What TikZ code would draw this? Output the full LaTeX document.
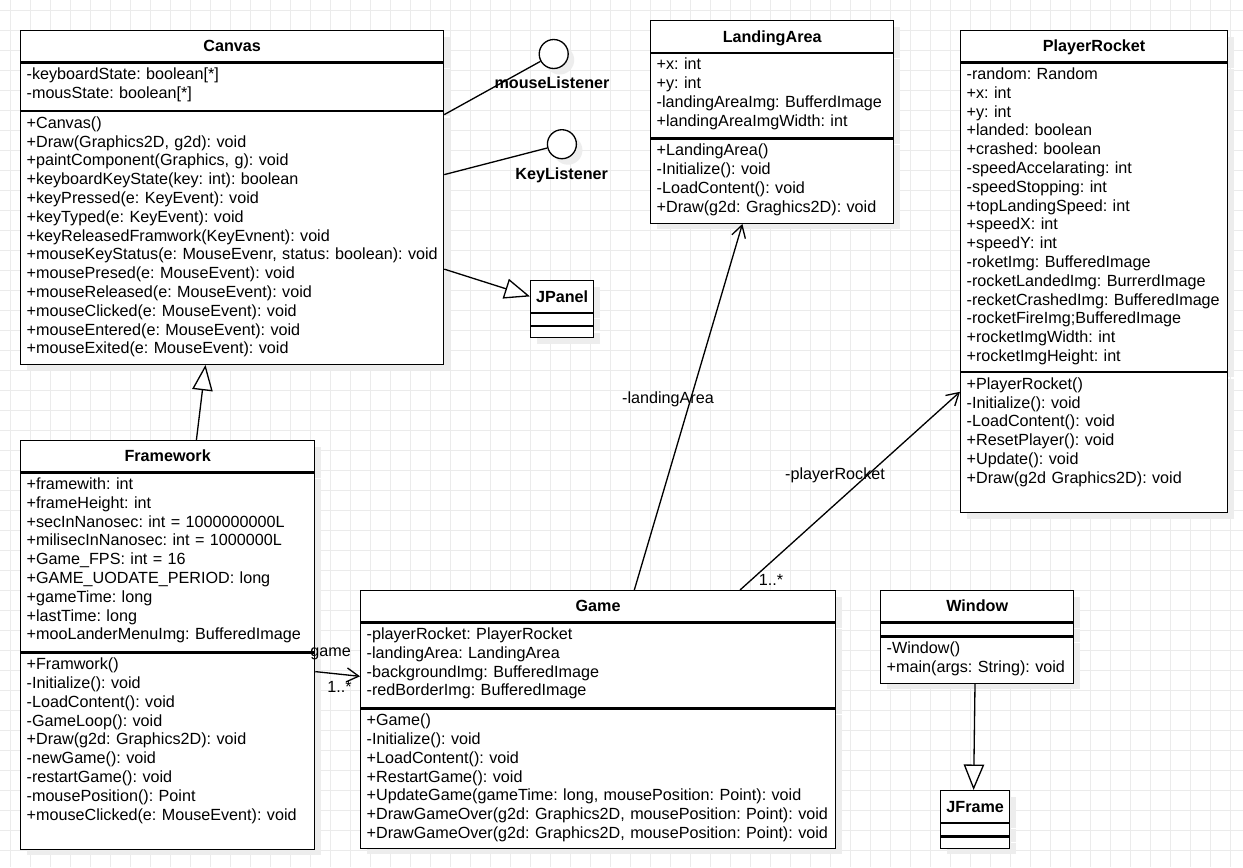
\documentclass[tikz,border=0pt]{standalone}
\usepackage{fontspec}
\setmainfont{Liberation Sans}
\usetikzlibrary{positioning,arrows.meta,shadows}
\hyphenpenalty=10000
\exhyphenpenalty=10000

\tikzset{
  umlshadow/.style={drop shadow={shadow xshift=0.12cm, shadow yshift=-0.12cm, fill=black!7, opacity=1}},
  classtitle/.style 2 args={draw, fill=white, umlshadow, anchor=north west, align=center,
    text width=#1, inner xsep=0pt, inner ysep=0pt, text height=0.232cm, text depth=0pt,
    minimum height=#2, font=\fontsize{9.2}{10.7}\selectfont\bfseries},
  members/.style 2 args={draw, fill=white, umlshadow, align=left, text width=#1,
    inner xsep=0.12cm, inner ysep=0pt, text height=0.33cm, text depth=#2},
  blankbox/.style 2 args={draw, fill=white, umlshadow, inner sep=0pt,
    minimum width=#1, minimum height=#2},
  iface/.style={circle, draw, fill=white, umlshadow, minimum size=0.58cm, inner sep=0pt},
  lbl/.style={inner sep=0pt, text height=0.232cm, text depth=0pt},
  ifacelbl/.style={lbl, font=\fontsize{9.2}{10.7}\selectfont\bfseries},
  inherit/.style={-{Triangle[length=0.51cm, width=0.41cm, fill=white]}},
  assoc/.style={-{Straight Barb[length=0.24cm, width=0.28cm]}},
  gridline/.style={draw=black!8, line width=0.5pt}
}

\begin{document}
\frenchspacing
\begin{tikzpicture}[x=0.02cm, y=-0.02cm, line width=0.75pt,
  font=\fontsize{9.2}{10.7}\selectfont]
  \useasboundingbox (0,0) rectangle (1243,867);
  \fill[white] (0,0) rectangle (1243,867);
  % background grid
  \foreach \gx in {10.5,30.5,...,1240} \draw[gridline] (\gx,0) -- (\gx,867);
  \foreach \gy in {10.5,30.5,...,860} \draw[gridline] (0,\gy) -- (1243,\gy);

  % Canvas
  \node[classtitle={8.46cm}{0.62cm}] (canvasT) at (20,30) {Canvas};
  \node[members={8.22cm}{0.62cm}, below=0pt of canvasT] (canvasA)
    {-keyboardState: boolean[*]\\-mousState: boolean[*]};
  \node[members={8.22cm}{4.72cm}, below=0pt of canvasA] (canvasM)
    {+Canvas()\\+Draw(Graphics2D, g2d): void\\+paintComponent(Graphics, g): void\\
     +keyboardKeyState(key: int): boolean\\+keyPressed(e: KeyEvent): void\\
     +keyTyped(e: KeyEvent): void\\+keyReleasedFramwork(KeyEvnent): void\\
     \mbox{+mouseKeyStatus(e: MouseEvenr, status: boolean): void}\\
     +mousePresed(e: MouseEvent): void\\+mouseReleased(e: MouseEvent): void\\
     +mouseClicked(e: MouseEvent): void\\+mouseEntered(e: MouseEvent): void\\
     +mouseExited(e: MouseEvent): void};

  % interfaces
  \node[iface] (mouseL) at (553.7,54) {};
  \node[ifacelbl] (mouseLlbl) at (552,83) {mouseListener};
  \node[iface] (keyL) at (561.9,144.2) {};
  \node[ifacelbl] (keyLlbl) at (561.7,173.3) {KeyListener};

  % JPanel
  \node[classtitle={1.26cm}{0.63cm}] (jpanelT) at (530,280) {JPanel};
  \node[blankbox={1.26cm}{0.24cm}, below=0pt of jpanelT] (jpanelA) {};
  \node[blankbox={1.26cm}{0.22cm}, below=0pt of jpanelA] (jpanelM) {};

  % LandingArea
  \node[classtitle={4.86cm}{0.63cm}] (laT) at (650,20) {LandingArea};
  \node[members={4.62cm}{1.36cm}, below=0pt of laT] (laA)
    {+x: int\\+y: int\\-landingAreaImg: BufferdImage\\+landingAreaImgWidth: int};
  \node[members={4.62cm}{1.35cm}, below=0pt of laA] (laM)
    {+LandingArea()\\-Initialize(): void\\-LoadContent(): void\\+Draw(g2d: Graghics2D): void};

  % PlayerRocket
  \node[classtitle={5.34cm}{0.62cm}] (prT) at (960,30) {PlayerRocket};
  \node[members={5.10cm}{5.84cm}, below=0pt of prT] (prA)
    {-random: Random\\+x: int\\+y: int\\+landed: boolean\\+crashed: boolean\\
     -speedAccelarating: int\\-speedStopping: int\\+topLandingSpeed: int\\
     +speedX: int\\+speedY: int\\-roketImg: BufferedImage\\
     -rocketLandedImg: BurrerdImage\\-recketCrashedImg: BufferedImage\\
     -rocketFireImg;BufferedImage\\+rocketImgWidth: int\\+rocketImgHeight: int};
  \node[members={5.10cm}{2.47cm}, below=0pt of prA] (prM)
    {+PlayerRocket()\\-Initialize(): void\\-LoadContent(): void\\
     +ResetPlayer(): void\\+Update(): void\\+Draw(g2d Graphics2D): void};

  % Framework
  \node[classtitle={5.88cm}{0.62cm}] (fwT) at (20,440) {Framework};
  \node[members={5.64cm}{3.25cm}, below=0pt of fwT] (fwA)
    {+framewith: int\\+frameHeight: int\\+secInNanosec: int = 1000000000L\\
     +milisecInNanosec: int = 1000000L\\+Game\_FPS: int = 16\\
     +GAME\_UODATE\_PERIOD: long\\+gameTime: long\\+lastTime: long\\
     +mooLanderMenuImg: BufferedImage};
  \node[members={5.64cm}{3.59cm}, below=0pt of fwA] (fwM)
    {+Framwork()\\-Initialize(): void\\-LoadContent(): void\\-GameLoop(): void\\
     +Draw(g2d: Graphics2D): void\\-newGame(): void\\-restartGame(): void\\
     -mousePosition(): Point\\+mouseClicked(e: MouseEvent): void};

  % Game
  \node[classtitle={9.50cm}{0.62cm}] (gameT) at (360,590) {Game};
  \node[members={9.26cm}{1.37cm}, below=0pt of gameT] (gameA)
    {-playerRocket: PlayerRocket\\-landingArea: LandingArea\\
     -backgroundImg: BufferedImage\\-redBorderImg: BufferedImage};
  \node[members={9.26cm}{2.45cm}, below=0pt of gameA] (gameM)
    {+Game()\\-Initialize(): void\\+LoadContent(): void\\+RestartGame(): void\\
     +UpdateGame(gameTime: long, mousePosition: Point): void\\
     +DrawGameOver(g2d: Graphics2D, mousePosition: Point): void\\
     +DrawGameOver(g2d: Graphics2D, mousePosition: Point): void};

  % Window
  \node[classtitle={3.86cm}{0.62cm}] (windowT) at (880,590) {Window};
  \node[blankbox={3.86cm}{0.26cm}, below=0pt of windowT] (windowA) {};
  \node[members={3.62cm}{0.59cm}, below=0pt of windowA] (windowM)
    {-Window()\\+main(args: String): void};

  % JFrame
  \node[classtitle={1.38cm}{0.63cm}] (jframeT) at (940,790) {JFrame};
  \node[blankbox={1.38cm}{0.25cm}, below=0pt of jframeT] (jframeA) {};
  \node[blankbox={1.38cm}{0.22cm}, below=0pt of jframeA] (jframeM) {};

  % connectors
  \draw ([shift={(0,3.5)}]canvasM.north east) -- (mouseL);
  \draw ([shift={(0,63.5)}]canvasM.north east) -- (keyL);
  \draw[inherit] ([shift={(0,158)}]canvasM.north east) -- (jpanelT.west);
  \draw[inherit] ([shift={(176.4,0)}]fwT.north west) -- ([shift={(185.5,0)}]canvasM.south west);
  \draw[inherit] ([shift={(95,0)}]windowM.south west) -- ([shift={(33.6,0)}]jframeT.north west);
  \draw[assoc] ([shift={(0,19)}]fwM.north east) -- ([shift={(0,54)}]gameA.north west);
  \draw[assoc] ([shift={(274.3,0)}]gameT.north west) -- ([shift={(92.4,0)}]laM.south west);
  \draw[assoc] ([shift={(380,0)}]gameT.north west) -- ([shift={(0,19.7)}]prM.north west);

  % connector labels
  \node[lbl] (laLbl) at (668,397.7) {-landingArea};
  \node[lbl] (prLbl) at (835,474) {-playerRocket};
  \node[lbl] (prMult) at (771,580) {1..*};
  \node[lbl] (gameLbl) at (328,650.7) {-game};
  \node[lbl] (gameMult) at (339.6,686.7) {1..*};
\end{tikzpicture}
\end{document}
